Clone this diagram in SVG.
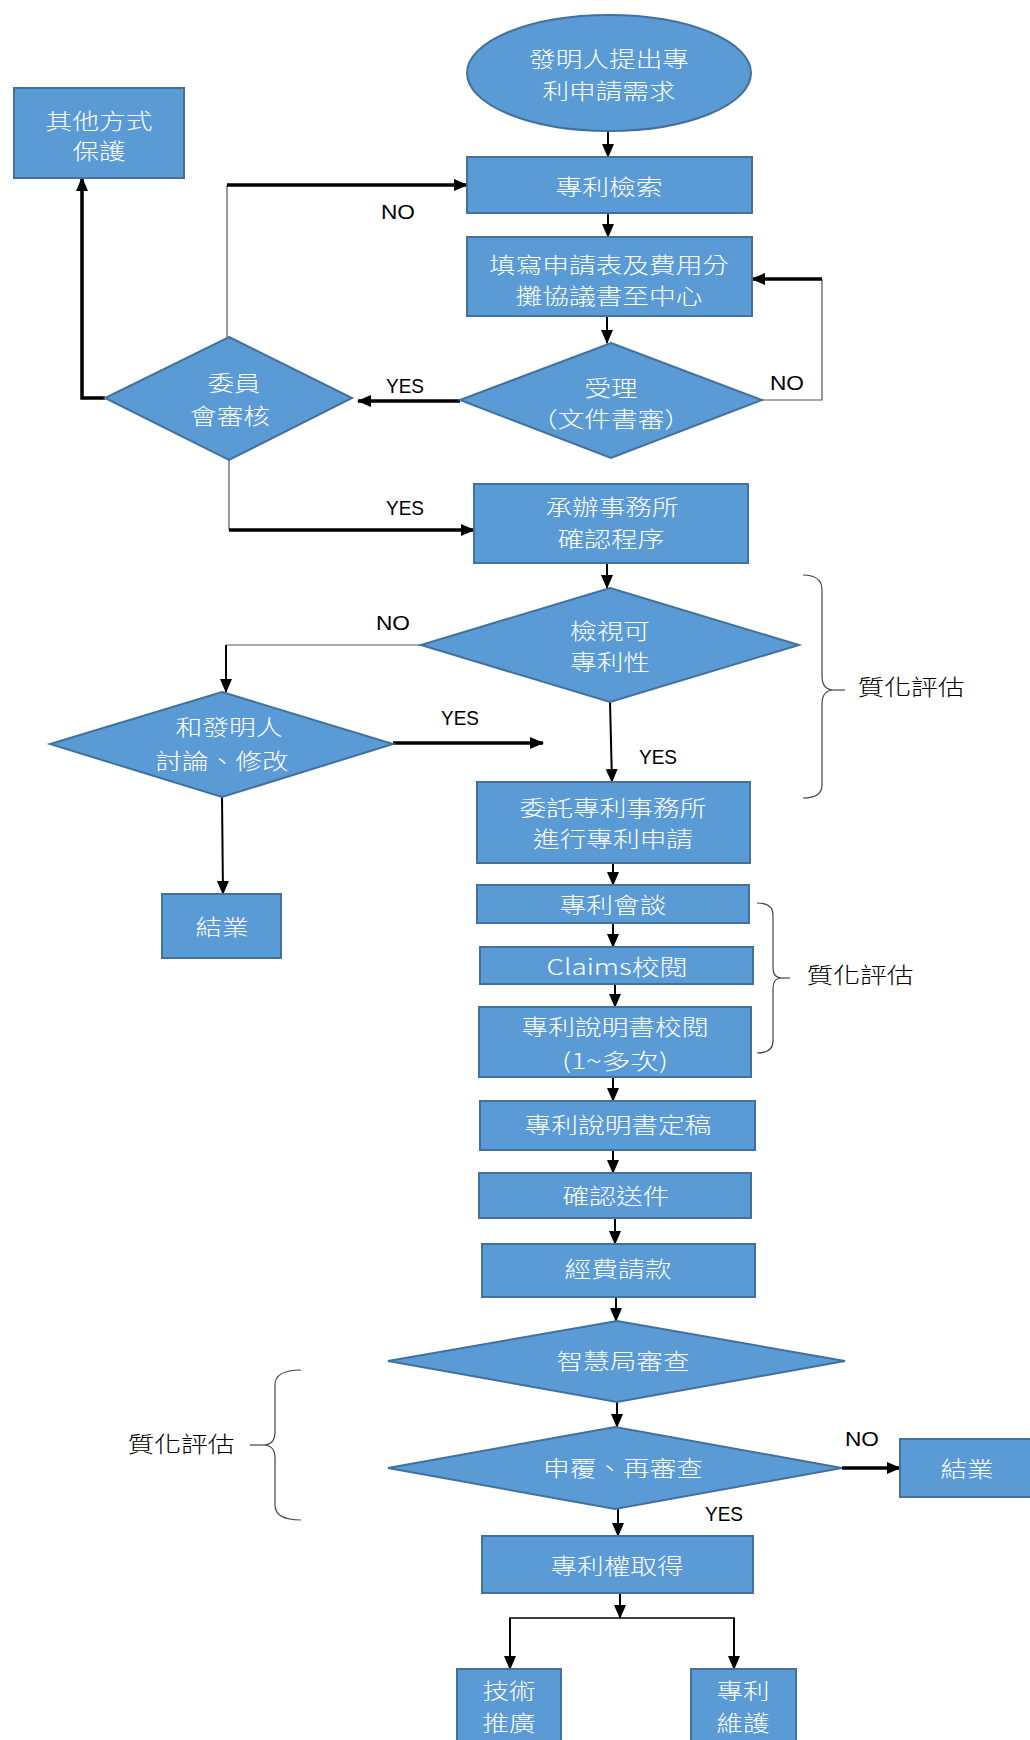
<svg xmlns="http://www.w3.org/2000/svg" width="1030" height="1740" viewBox="0 0 1030 1740">
  <defs>
    <style>
      .box { fill: #5B9BD5; stroke: #41719C; stroke-width: 2; }
      .lbl { fill: #FFFFFF; font-family: "Noto Sans CJK TC", "Noto Sans", sans-serif; font-size: 22px; font-weight: 300; text-anchor: middle; }
      .note { fill: #000000; font-family: "Noto Sans CJK TC", sans-serif; font-size: 22px; font-weight: 300; text-anchor: middle; }
      .yn { fill: #000000; font-family: "Liberation Sans", Arial, sans-serif; font-size: 21px; text-anchor: middle; }
      .ln { fill: none; stroke: #000000; stroke-width: 2; }
      .thick { fill: none; stroke: #000000; stroke-width: 3.5; }
      .thin { fill: none; stroke: #555555; stroke-width: 1.2; }
      .brace { fill: none; stroke: #444444; stroke-width: 1.2; }
    </style>
    <marker id="ah" markerUnits="userSpaceOnUse" markerWidth="14" markerHeight="14" viewBox="0 0 14 14" refX="13" refY="7" orient="auto">
      <path d="M0,1 L14,7 L0,13 Z" fill="#000000"/>
    </marker>
  </defs>

  <rect width="1030" height="1740" fill="#FFFFFF"/>

  <!-- connectors -->
  <g id="connectors">
    <line class="ln" x1="608" y1="131" x2="608" y2="157" marker-end="url(#ah)"/>
    <line class="ln" x1="608" y1="213" x2="608" y2="237" marker-end="url(#ah)"/>
    <line class="ln" x1="607" y1="316" x2="607" y2="343" marker-end="url(#ah)"/>
    <!-- 受理 NO loop back -->
    <polyline class="thin" points="762,400 822,400 822,279"/>
    <line class="thick" x1="822" y1="279" x2="752" y2="279" marker-end="url(#ah)"/>
    <!-- 受理 YES -->
    <line class="thick" x1="460" y1="401" x2="358" y2="401" marker-end="url(#ah)"/>
    <!-- 委員會審核 to other protection -->
    <polyline class="thick" points="105,398 82,398 82,178" marker-end="url(#ah)"/>
    <!-- 委員會審核 NO back to search -->
    <line class="thin" x1="227" y1="337" x2="227" y2="185"/>
    <line class="thick" x1="227" y1="185" x2="467" y2="185" marker-end="url(#ah)"/>
    <!-- 委員會審核 YES -->
    <polyline class="thin" points="229,460 229,530"/>
    <line class="thick" x1="229" y1="530" x2="474" y2="530" marker-end="url(#ah)"/>
    <line class="ln" x1="607" y1="563" x2="607" y2="588" marker-end="url(#ah)"/>
    <!-- 檢視可專利性 NO -->
    <line class="thin" x1="421" y1="645" x2="226" y2="645"/>
    <line class="ln" x1="226" y1="645" x2="226" y2="692" marker-end="url(#ah)"/>
    <!-- 和發明人 YES -->
    <line class="thick" x1="393" y1="743" x2="543" y2="743" marker-end="url(#ah)"/>
    <!-- 檢視可專利性 YES -->
    <line class="ln" x1="610" y1="702" x2="612" y2="782" marker-end="url(#ah)"/>
    <line class="ln" x1="222" y1="797" x2="223" y2="894" marker-end="url(#ah)"/>
    <line class="ln" x1="613" y1="863" x2="613" y2="885" marker-end="url(#ah)"/>
    <line class="ln" x1="613" y1="923" x2="613" y2="947" marker-end="url(#ah)"/>
    <line class="ln" x1="615" y1="984" x2="615" y2="1007" marker-end="url(#ah)"/>
    <line class="ln" x1="613" y1="1077" x2="613" y2="1101" marker-end="url(#ah)"/>
    <line class="ln" x1="613" y1="1150" x2="613" y2="1173" marker-end="url(#ah)"/>
    <line class="ln" x1="615" y1="1218" x2="615" y2="1244" marker-end="url(#ah)"/>
    <line class="ln" x1="616" y1="1297" x2="616" y2="1321" marker-end="url(#ah)"/>
    <line class="ln" x1="617" y1="1402" x2="617" y2="1427" marker-end="url(#ah)"/>
    <!-- 申覆 NO -->
    <line class="thick" x1="842" y1="1468" x2="900" y2="1468" marker-end="url(#ah)"/>
    <line class="ln" x1="618" y1="1509" x2="618" y2="1536" marker-end="url(#ah)"/>
    <!-- split to two outcomes -->
    <line class="ln" x1="620" y1="1593" x2="620" y2="1618" marker-end="url(#ah)"/>
    <line class="ln" x1="509" y1="1618" x2="735" y2="1618" style="stroke-width:1.5"/>
    <line class="ln" x1="510" y1="1618" x2="510" y2="1669" marker-end="url(#ah)"/>
    <line class="ln" x1="734" y1="1618" x2="734" y2="1669" marker-end="url(#ah)"/>

    <!-- connector labels -->
    <text class="yn" x="398" y="219" textLength="34" lengthAdjust="spacingAndGlyphs">NO</text>
    <text class="yn" x="787" y="390" textLength="34" lengthAdjust="spacingAndGlyphs">NO</text>
    <text class="yn" x="405" y="393" textLength="38" lengthAdjust="spacingAndGlyphs">YES</text>
    <text class="yn" x="405" y="515" textLength="38" lengthAdjust="spacingAndGlyphs">YES</text>
    <text class="yn" x="393" y="630" textLength="34" lengthAdjust="spacingAndGlyphs">NO</text>
    <text class="yn" x="460" y="725" textLength="38" lengthAdjust="spacingAndGlyphs">YES</text>
    <text class="yn" x="658" y="764" textLength="38" lengthAdjust="spacingAndGlyphs">YES</text>
    <text class="yn" x="862" y="1446" textLength="34" lengthAdjust="spacingAndGlyphs">NO</text>
    <text class="yn" x="724" y="1521" textLength="38" lengthAdjust="spacingAndGlyphs">YES</text>
  </g>

  <!-- braces and notes -->
  <g id="brace-1">
    <path class="brace" d="M803,575 Q822,575 822,590 L822,676 Q822,690 834,690 Q822,690 822,704 L822,785 Q822,798 803,798"/>
    <line class="brace" x1="834" y1="690" x2="845" y2="690"/>
    <text class="note" x="911" y="695" textLength="107" lengthAdjust="spacingAndGlyphs">質化評估</text>
  </g>
  <g id="brace-2">
    <path class="brace" d="M757,903 Q773,903 773,915 L773,968 Q773,978 782,978 Q773,978 773,988 L773,1041 Q773,1053 757,1053"/>
    <line class="brace" x1="782" y1="978" x2="790" y2="978"/>
    <text class="note" x="860" y="983" textLength="107" lengthAdjust="spacingAndGlyphs">質化評估</text>
  </g>
  <g id="brace-3">
    <path class="brace" d="M301,1370 Q275,1370 275,1385 L275,1432 Q275,1445 263,1445 Q275,1445 275,1458 L275,1505 Q275,1520 301,1520"/>
    <line class="brace" x1="263" y1="1445" x2="250" y2="1445"/>
    <text class="note" x="181" y="1452" textLength="107" lengthAdjust="spacingAndGlyphs">質化評估</text>
  </g>

  <!-- nodes -->
  <g id="n-other">
    <rect class="box" x="14" y="88" width="170" height="90"/>
    <text class="lbl" x="99" y="129" textLength="107" lengthAdjust="spacingAndGlyphs">其他方式</text>
    <text class="lbl" x="99" y="159" textLength="53" lengthAdjust="spacingAndGlyphs">保護</text>
  </g>
  <g id="n-start">
    <ellipse class="box" cx="609" cy="73" rx="142" ry="58"/>
    <text class="lbl" x="609" y="67" textLength="160" lengthAdjust="spacingAndGlyphs">發明人提出專</text>
    <text class="lbl" x="609" y="99" textLength="133" lengthAdjust="spacingAndGlyphs">利申請需求</text>
  </g>
  <g id="n-search">
    <rect class="box" x="467" y="157" width="285" height="56"/>
    <text class="lbl" x="609" y="195" textLength="107" lengthAdjust="spacingAndGlyphs">專利檢索</text>
  </g>
  <g id="n-form">
    <rect class="box" x="467" y="237" width="285" height="79"/>
    <text class="lbl" x="609" y="273" textLength="240" lengthAdjust="spacingAndGlyphs">填寫申請表及費用分</text>
    <text class="lbl" x="609" y="304" textLength="187" lengthAdjust="spacingAndGlyphs">攤協議書至中心</text>
  </g>
  <g id="n-accept">
    <polygon class="box" points="611,343 762,400 611,458 460,400"/>
    <text class="lbl" x="611" y="396" textLength="53" lengthAdjust="spacingAndGlyphs">受理</text>
    <text class="lbl" x="611" y="427" textLength="160" lengthAdjust="spacingAndGlyphs">（文件書審）</text>
  </g>
  <g id="n-committee">
    <polygon class="box" points="229,337 352,398 229,460 105,398"/>
    <text class="lbl" x="234" y="391" textLength="53" lengthAdjust="spacingAndGlyphs">委員</text>
    <text class="lbl" x="230" y="424" textLength="80" lengthAdjust="spacingAndGlyphs">會審核</text>
  </g>
  <g id="n-firm">
    <rect class="box" x="474" y="484" width="274" height="79"/>
    <text class="lbl" x="612" y="515" textLength="133" lengthAdjust="spacingAndGlyphs">承辦事務所</text>
    <text class="lbl" x="611" y="547" textLength="107" lengthAdjust="spacingAndGlyphs">確認程序</text>
  </g>
  <g id="n-patentability">
    <polygon class="box" points="610,588 799,645 610,702 421,645"/>
    <text class="lbl" x="610" y="639" textLength="80" lengthAdjust="spacingAndGlyphs">檢視可</text>
    <text class="lbl" x="610" y="670" textLength="80" lengthAdjust="spacingAndGlyphs">專利性</text>
  </g>
  <g id="n-discuss">
    <polygon class="box" points="222,692 393,744 222,797 50,744"/>
    <text class="lbl" x="229" y="735" textLength="107" lengthAdjust="spacingAndGlyphs">和發明人</text>
    <text class="lbl" x="222" y="769" textLength="133" lengthAdjust="spacingAndGlyphs">討論、修改</text>
  </g>
  <g id="n-end-1">
    <rect class="box" x="162" y="894" width="119" height="64"/>
    <text class="lbl" x="222" y="935" textLength="53" lengthAdjust="spacingAndGlyphs">結業</text>
  </g>
  <g id="n-entrust">
    <rect class="box" x="477" y="782" width="273" height="81"/>
    <text class="lbl" x="613" y="816" textLength="187" lengthAdjust="spacingAndGlyphs">委託專利事務所</text>
    <text class="lbl" x="613" y="847" textLength="160" lengthAdjust="spacingAndGlyphs">進行專利申請</text>
  </g>
  <g id="n-meeting">
    <rect class="box" x="477" y="885" width="272" height="38"/>
    <text class="lbl" x="613" y="913" textLength="107" lengthAdjust="spacingAndGlyphs">專利會談</text>
  </g>
  <g id="n-claims">
    <rect class="box" x="480" y="947" width="273" height="37"/>
    <text class="lbl" x="617" y="975" textLength="141" lengthAdjust="spacingAndGlyphs">Claims校閱</text>
  </g>
  <g id="n-review">
    <rect class="box" x="479" y="1007" width="272" height="70"/>
    <text class="lbl" x="615" y="1035" textLength="187" lengthAdjust="spacingAndGlyphs">專利說明書校閱</text>
    <text class="lbl" x="615" y="1069" textLength="106" lengthAdjust="spacingAndGlyphs">(1~多次)</text>
  </g>
  <g id="n-final">
    <rect class="box" x="480" y="1101" width="275" height="49"/>
    <text class="lbl" x="618" y="1133" textLength="187" lengthAdjust="spacingAndGlyphs">專利說明書定稿</text>
  </g>
  <g id="n-submit">
    <rect class="box" x="479" y="1173" width="272" height="45"/>
    <text class="lbl" x="616" y="1204" textLength="107" lengthAdjust="spacingAndGlyphs">確認送件</text>
  </g>
  <g id="n-billing">
    <rect class="box" x="482" y="1244" width="273" height="53"/>
    <text class="lbl" x="618" y="1277" textLength="107" lengthAdjust="spacingAndGlyphs">經費請款</text>
  </g>
  <g id="n-tipo">
    <polygon class="box" points="617,1321 845,1361 617,1402 388,1361"/>
    <text class="lbl" x="623" y="1369" textLength="133" lengthAdjust="spacingAndGlyphs">智慧局審查</text>
  </g>
  <g id="n-reexam">
    <polygon class="box" points="615,1427 842,1468 615,1509 388,1468"/>
    <text class="lbl" x="623" y="1476" textLength="160" lengthAdjust="spacingAndGlyphs">申覆、再審查</text>
  </g>
  <g id="n-end-2">
    <rect class="box" x="900" y="1439" width="134" height="58"/>
    <text class="lbl" x="967" y="1477" textLength="53" lengthAdjust="spacingAndGlyphs">結業</text>
  </g>
  <g id="n-granted">
    <rect class="box" x="482" y="1536" width="271" height="57"/>
    <text class="lbl" x="617" y="1574" textLength="133" lengthAdjust="spacingAndGlyphs">專利權取得</text>
  </g>
  <g id="n-promote">
    <rect class="box" x="457" y="1669" width="104" height="80"/>
    <text class="lbl" x="509" y="1699" textLength="53" lengthAdjust="spacingAndGlyphs">技術</text>
    <text class="lbl" x="509" y="1731" textLength="53" lengthAdjust="spacingAndGlyphs">推廣</text>
  </g>
  <g id="n-maintain">
    <rect class="box" x="691" y="1669" width="105" height="80"/>
    <text class="lbl" x="743" y="1699" textLength="53" lengthAdjust="spacingAndGlyphs">專利</text>
    <text class="lbl" x="743" y="1731" textLength="53" lengthAdjust="spacingAndGlyphs">維護</text>
  </g>
</svg>
